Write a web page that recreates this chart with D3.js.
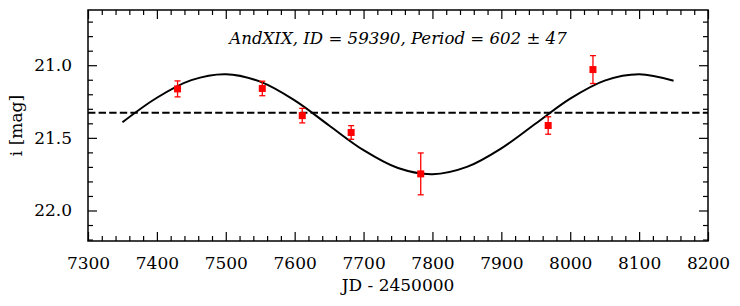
<!DOCTYPE html>
<html><head><meta charset="utf-8">
<script src="https://cdn.jsdelivr.net/npm/d3@7"></script>
<style>body{margin:0;background:#fff}svg{display:block}</style>
</head><body>
<svg id="c" width="740" height="306"></svg>
<script>
// Observations
const jd = [7430, 7553, 7611, 7682, 7783, 7968, 8033];
const mag = [21.163, 21.160, 21.347, 21.463, 21.748, 21.415, 21.030];
const magErr = [0.055, 0.050, 0.050, 0.047, 0.144, 0.060, 0.096];
// Fitted sinusoid
const fitJd = [7350, 7400, 7450, 7500, 7550, 7600, 7650, 7700, 7750, 7800, 7850, 7900, 7950, 8000, 8050, 8100, 8150];
const fitMag = [21.393, 21.224, 21.103, 21.062, 21.113, 21.242, 21.415, 21.585, 21.708, 21.750, 21.700, 21.572, 21.401, 21.230, 21.106, 21.062, 21.107];
const meanMag = 21.328;
const xTicks = [7300, 7400, 7500, 7600, 7700, 7800, 7900, 8000, 8100, 8200];
const yTicks = [21.0, 21.5, 22.0];
const title = "AndXIX, ID = 59390, Period = 602 ± 47";
const xLabel = "JD - 2450000";
const yLabel = "i [mag]";

const svg = d3.select("#c");
const L = 88, R = 708, T = 10, B = 241;
const x = d3.scaleLinear().domain([7300, 8200]).range([L, R]);
const y = d3.scaleLinear().domain([20.62, 22.21]).range([T, B]);
const font = "'DejaVu Serif', serif";

const xMinor = d3.range(7300, 8201, 20).filter(v => v % 100 !== 0);
const yMinor = d3.range(20.7, 22.21, 0.1).map(v => +v.toFixed(1)).filter(v => Math.abs(v * 2 - Math.round(v * 2)) > 1e-6);

function styleAxis(g) {
  g.select(".domain").remove();
  g.selectAll("line").attr("stroke", "#000").attr("stroke-width", 1.2);
  g.selectAll("text").attr("font-family", font).attr("font-size", 17).attr("fill", "#000");
}
// bottom
svg.append("g").attr("transform", `translate(0,${B})`)
  .call(d3.axisBottom(x).tickValues(xTicks).tickFormat(d3.format("d")).tickSize(-9).tickPadding(16)).call(styleAxis);
svg.append("g").attr("transform", `translate(0,${B})`)
  .call(d3.axisBottom(x).tickValues(xMinor).tickFormat("").tickSize(-5)).call(styleAxis);
// top
svg.append("g").attr("transform", `translate(0,${T})`)
  .call(d3.axisTop(x).tickValues(xTicks).tickFormat("").tickSize(-9)).call(styleAxis);
svg.append("g").attr("transform", `translate(0,${T})`)
  .call(d3.axisTop(x).tickValues(xMinor).tickFormat("").tickSize(-5)).call(styleAxis);
// left
svg.append("g").attr("transform", `translate(${L},0)`)
  .call(d3.axisLeft(y).tickValues(yTicks).tickFormat(d3.format(".1f")).tickSize(-9).tickPadding(16)).call(styleAxis);
svg.append("g").attr("transform", `translate(${L},0)`)
  .call(d3.axisLeft(y).tickValues(yMinor).tickFormat("").tickSize(-5)).call(styleAxis);
// right
svg.append("g").attr("transform", `translate(${R},0)`)
  .call(d3.axisRight(y).tickValues(yTicks).tickFormat("").tickSize(-9)).call(styleAxis);
svg.append("g").attr("transform", `translate(${R},0)`)
  .call(d3.axisRight(y).tickValues(yMinor).tickFormat("").tickSize(-5)).call(styleAxis);

// frame
svg.append("rect").attr("x", L).attr("y", T).attr("width", R - L).attr("height", B - T)
  .attr("fill", "none").attr("stroke", "#000").attr("stroke-width", 1.5);

// mean dashed line
svg.append("line").attr("x1", L).attr("x2", R).attr("y1", y(meanMag)).attr("y2", y(meanMag))
  .attr("stroke", "#000").attr("stroke-width", 2).attr("stroke-dasharray", "7.4,3.2");

// fit curve
const fit = fitJd.map((d, i) => [d, fitMag[i]]);
svg.append("path").datum(fit)
  .attr("d", d3.line().x(d => x(d[0])).y(d => y(d[1])).curve(d3.curveCatmullRom.alpha(0.5)))
  .attr("fill", "none").attr("stroke", "#000").attr("stroke-width", 2);

// error bars
const pts = jd.map((d, i) => ({ jd: d, m: mag[i], e: magErr[i] }));
const eg = svg.append("g").attr("stroke", "#ff0000").attr("stroke-width", 1.3);
pts.forEach(p => {
  const cx = x(p.jd);
  eg.append("line").attr("x1", cx).attr("x2", cx).attr("y1", y(p.m - p.e)).attr("y2", y(p.m + p.e));
  eg.append("line").attr("x1", cx - 3).attr("x2", cx + 3).attr("y1", y(p.m - p.e)).attr("y2", y(p.m - p.e));
  eg.append("line").attr("x1", cx - 3).attr("x2", cx + 3).attr("y1", y(p.m + p.e)).attr("y2", y(p.m + p.e));
});
svg.append("g").selectAll("rect").data(pts).join("rect")
  .attr("x", d => x(d.jd) - 3.5).attr("y", d => y(d.m) - 3.5)
  .attr("width", 7).attr("height", 7).attr("fill", "#ff0000");

// title
svg.append("text").attr("x", (L + R) / 2).attr("y", 44.3).attr("text-anchor", "middle")
  .attr("font-family", font).attr("font-style", "italic").attr("font-size", 16.6).text(title);
// labels
svg.append("text").attr("x", (L + R) / 2).attr("y", 291).attr("text-anchor", "middle")
  .attr("font-family", font).attr("font-size", 17).text(xLabel);
svg.append("text").attr("transform", `translate(22,${(T + B) / 2}) rotate(-90)`).attr("text-anchor", "middle")
  .attr("font-family", font).attr("font-size", 17).text(yLabel);
</script>
</body></html>
